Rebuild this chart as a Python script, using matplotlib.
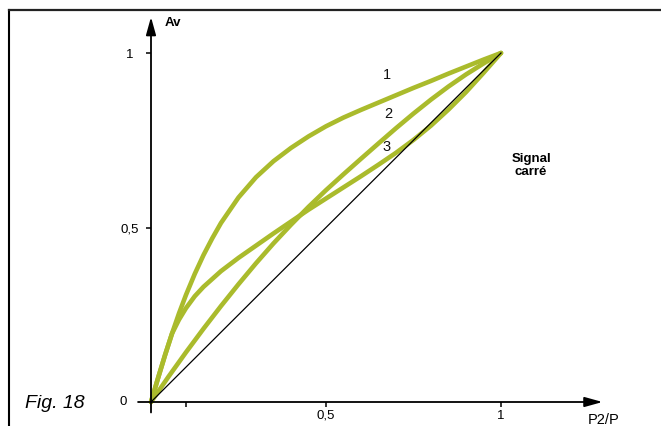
import matplotlib
matplotlib.use("Agg")
import matplotlib.pyplot as plt
from matplotlib.lines import Line2D
from matplotlib.transforms import ScaledTranslation

plt.rcParams["font.family"] = ["Liberation Sans", "DejaVu Sans"]

# Av as a function of P2/P, square-wave signal, three cases
curve1_x = [0, 0.02, 0.04, 0.06, 0.08, 0.10, 0.125, 0.15, 0.175, 0.20, 0.25,
            0.30, 0.35, 0.40, 0.45, 0.50, 0.55, 0.60, 0.65, 0.70, 0.75, 0.80,
            0.85, 0.90, 0.95, 1.0]
curve1_y = [0, 0.068, 0.134, 0.196, 0.254, 0.307, 0.367, 0.421, 0.469, 0.513,
            0.586, 0.644, 0.690, 0.728, 0.761, 0.790, 0.815, 0.837, 0.858,
            0.879, 0.900, 0.920, 0.941, 0.961, 0.981, 1.0]

curve2_x = [0, 0.05, 0.10, 0.15, 0.20, 0.25, 0.30, 0.35, 0.40, 0.45, 0.50,
            0.55, 0.60, 0.65, 0.70, 0.75, 0.80, 0.85, 0.90, 0.95, 1.0]
curve2_y = [0, 0.0725, 0.1425, 0.21, 0.275, 0.3375, 0.3975, 0.4545, 0.508,
            0.559, 0.607, 0.6525, 0.697, 0.741, 0.7845, 0.8265, 0.8665, 0.904,
            0.9385, 0.970, 1.0]

curve3_x = [0, 0.02, 0.04, 0.06, 0.08, 0.10, 0.125, 0.15, 0.20, 0.25, 0.30,
            0.35, 0.40, 0.45, 0.50, 0.55, 0.60, 0.65, 0.70, 0.75, 0.80, 0.85,
            0.90, 0.95, 1.0]
curve3_y = [0, 0.068, 0.134, 0.196, 0.236, 0.269, 0.303, 0.330, 0.375, 0.413,
            0.448, 0.483, 0.517, 0.551, 0.583, 0.615, 0.647, 0.680, 0.714,
            0.751, 0.792, 0.838, 0.888, 0.943, 1.0]

reference_x = [0, 1]
reference_y = [0, 1]

curve_labels = ["1", "2", "3"]
label_x = [0.673, 0.677, 0.673]
label_y = [0.937, 0.825, 0.731]

xtick_values = [0.1, 0.5, 1.0]
xtick_labels = ["", "0,5", "1"]
ytick_values = [0.5, 1.0]
ytick_labels = ["0,5", "1"]

W, H = 661, 426
fig = plt.figure(figsize=(W / 100, H / 100), dpi=100)
fig.patch.set_facecolor("white")

ax = fig.add_axes([151 / W, 24 / H, 350 / W, 349 / H])
ax.set_xlim(0, 1)
ax.set_ylim(0, 1)
for s in ax.spines.values():
    s.set_visible(False)
ax.patch.set_alpha(0)

green = "#aabb2c"
for xs, ys in [(curve1_x, curve1_y), (curve2_x, curve2_y), (curve3_x, curve3_y)]:
    ax.plot(xs, ys, color=green, lw=3.3, solid_capstyle="round",
            solid_joinstyle="round", clip_on=False, zorder=2)
ax.plot(reference_x, reference_y, color="black", lw=0.9, zorder=3, clip_on=False)

for t, x, y in zip(curve_labels, label_x, label_y):
    ax.text(x, y, t, fontsize=10.5, ha="center", va="center", color="#111111")

# axes with arrow heads
arrow = dict(arrowstyle="-|>,head_length=0.9,head_width=0.25", color="black",
             lw=1.3, mutation_scale=12, shrinkA=0, shrinkB=0)
ax.annotate("", xy=(0, 1.103), xytext=(0, -0.03), arrowprops=arrow,
            annotation_clip=False)
ax.annotate("", xy=(1.29, 0), xytext=(-0.037, 0), arrowprops=arrow,
            annotation_clip=False)

ax.set_xticks(xtick_values, xtick_labels)
ax.set_yticks(ytick_values, ytick_labels)
ax.tick_params(direction="out", length=3.6, width=1.1, labelsize=9.5,
               colors="black")
ax.tick_params(axis="x", pad=2)
ax.tick_params(axis="y", pad=5)

# the "1" on the vertical axis sits a little further from its tick
for lbl in ax.get_yticklabels():
    if lbl.get_text() == "1":
        lbl.set_transform(lbl.get_transform()
                          + ScaledTranslation(-4 / 72, 0, fig.dpi_scale_trans))

ax.text(-0.069, 0, "0", fontsize=9.5, ha="right", va="center")
ax.text(0.04, 1.086, "Av", fontsize=9.5, fontweight="bold", ha="left", va="center")
ax.text(1.294, -0.052, "P2/P", fontsize=10.5, ha="center", va="center")
ax.text(1.086, 0.678, "Signal\ncarré", fontsize=9.5, fontweight="bold",
        ha="center", va="center", linespacing=1.1)

fig.text(25 / W, 1 - 403 / H, "Fig. 18", style="italic", fontsize=14,
         ha="left", va="center")

# figure frame (left and top edges)
fig.add_artist(Line2D([9 / W, 9 / W], [0, 1 - 10 / H], transform=fig.transFigure,
                      color="black", lw=1.5))
fig.add_artist(Line2D([9 / W, 1], [1 - 10 / H, 1 - 10 / H], transform=fig.transFigure,
                      color="#222222", lw=1.6))

fig.savefig("out.png", dpi=100, facecolor="white")
